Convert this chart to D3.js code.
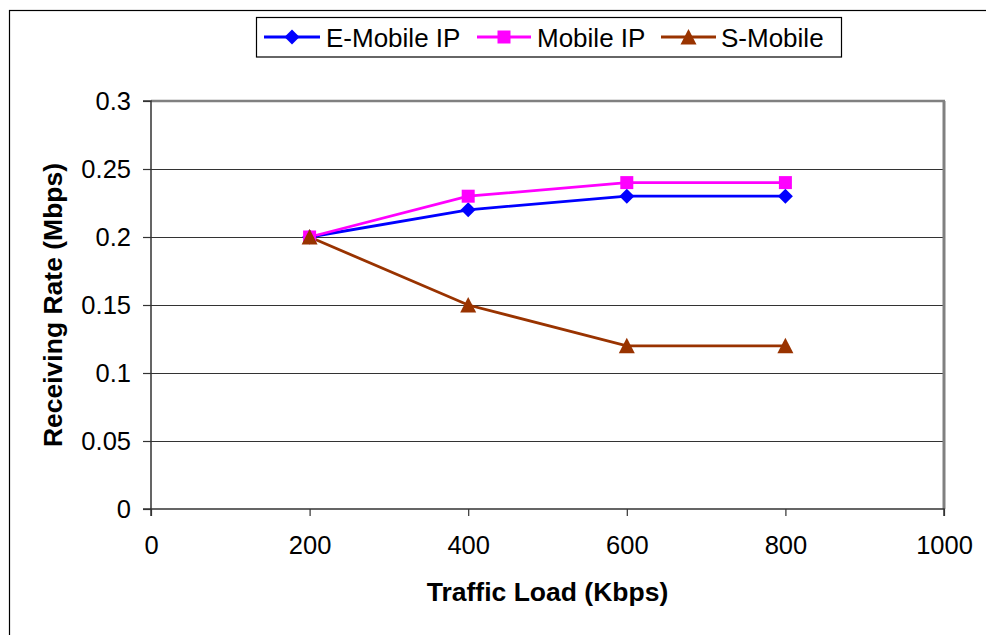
<!DOCTYPE html>
<html>
<head>
<meta charset="utf-8">
<script src="https://cdn.jsdelivr.net/npm/d3@7"></script>
<style>
  html, body { margin: 0; padding: 0; background: #fff; }
  svg { display: block; }
  text { font-family: "Liberation Sans", Arial, sans-serif; fill: #000; }
</style>
</head>
<body>
<svg id="chart" width="986" height="635"></svg>
<script>
// ---- data ----
const trafficLoad = [200, 400, 600, 800];
const eMobileIP = [0.20, 0.22, 0.23, 0.23];
const mobileIP = [0.20, 0.23, 0.24, 0.24];
const sMobile = [0.20, 0.15, 0.12, 0.12];
const seriesNames = ["E-Mobile IP", "Mobile IP", "S-Mobile"];
const xTicks = [0, 200, 400, 600, 800, 1000];
const yTicks = [0, 0.05, 0.1, 0.15, 0.2, 0.25, 0.3];
const xTitle = "Traffic Load (Kbps)";
const yTitle = "Receiving Rate (Mbps)";

// custom marker shapes (bbox-centred)
const diamondPath = "M0,-7.5L7.5,0L0,7.5L-7.5,0Z";
const squarePath = "M-6.5,-6.5H6.5V6.5H-6.5Z";
const trianglePath = "M0,-8L8,7.5H-8Z";

const series = [
  { name: seriesNames[0], values: eMobileIP, color: "#0000FF", marker: diamondPath },
  { name: seriesNames[1], values: mobileIP, color: "#FF00FF", marker: squarePath },
  { name: seriesNames[2], values: sMobile, color: "#993300", marker: trianglePath }
];

const svg = d3.select("#chart");

// outer frame (extends past bottom/right)
svg.append("rect").attr("x", 9.5).attr("y", 10.5).attr("width", 1000).attr("height", 700)
  .attr("fill", "none").attr("stroke", "#000").attr("stroke-width", 1.2);

const plot = { left: 151, right: 944, top: 101, bottom: 509 };
const x = d3.scaleLinear().domain([0, 1000]).range([plot.left, plot.right]);
const y = d3.scaleLinear().domain([0, 0.3]).range([plot.bottom, plot.top]);

// gridlines
svg.append("g").selectAll("line").data(yTicks.filter(v => v > 0 && v < 0.3)).join("line")
  .attr("x1", plot.left).attr("x2", plot.right)
  .attr("y1", d => Math.round(y(d)) + 0.5).attr("y2", d => Math.round(y(d)) + 0.5)
  .attr("stroke", "#333").attr("stroke-width", 1.2);

// plot border top/right (gray)
svg.append("line").attr("x1", plot.left).attr("x2", plot.right + 1).attr("y1", plot.top).attr("y2", plot.top)
  .attr("stroke", "#808080").attr("stroke-width", 2.5);
svg.append("line").attr("x1", plot.right).attr("x2", plot.right).attr("y1", plot.top).attr("y2", plot.bottom)
  .attr("stroke", "#808080").attr("stroke-width", 3);

// axes
const fs = "25.5px";
const xAxis = d3.axisBottom(x).tickValues(xTicks).tickSize(7).tickPadding(20).tickFormat(d3.format("d"));
const gx = svg.append("g").attr("transform", `translate(0,${plot.bottom})`).call(xAxis);
gx.select(".domain").attr("stroke", "#333").attr("stroke-width", 1.5).attr("d", `M${plot.left},7V0H${plot.right}V7`);
gx.selectAll(".tick line").attr("stroke", "#333").attr("stroke-width", 1.2);
gx.selectAll(".tick text").attr("font-size", fs).attr("font-family", "Liberation Sans, Arial, sans-serif").attr("fill", "#000");

const yAxis = d3.axisLeft(y).tickValues(yTicks).tickSize(8).tickPadding(12).tickFormat(d => d3.format("")(+d.toFixed(2)));
const gy = svg.append("g").attr("transform", `translate(${plot.left},0)`).call(yAxis);
gy.select(".domain").attr("stroke", "#333").attr("stroke-width", 1.5).attr("d", `M-8,${plot.top}H0V${plot.bottom}H-8`);
gy.selectAll(".tick line").attr("stroke", "#333").attr("stroke-width", 1.2);
gy.selectAll(".tick text").attr("font-size", fs).attr("font-family", "Liberation Sans, Arial, sans-serif").attr("fill", "#000");

// axis titles
svg.append("text").attr("x", (plot.left + plot.right) / 2).attr("y", 601)
  .attr("text-anchor", "middle").attr("font-size", "26.5px").attr("font-weight", "bold").text(xTitle);
svg.append("text").attr("transform", `translate(62,${(plot.top + plot.bottom) / 2}) rotate(-90)`)
  .attr("text-anchor", "middle").attr("font-size", "26.5px").attr("font-weight", "bold").text(yTitle);

// lines + markers
const line = d3.line().x((d, i) => x(trafficLoad[i])).y(d => y(d));
series.forEach(s => {
  svg.append("path").datum(s.values).attr("d", line)
    .attr("fill", "none").attr("stroke", s.color).attr("stroke-width", 2.8);
});
series.forEach(s => {
  svg.append("g").selectAll("path").data(s.values).join("path")
    .attr("d", s.marker)
    .attr("transform", (d, i) => `translate(${x(trafficLoad[i])},${y(d)})`)
    .attr("fill", s.color);
});

// legend
const legend = svg.append("g");
legend.append("rect").attr("x", 256.5).attr("y", 17.5).attr("width", 585).attr("height", 39.5)
  .attr("fill", "#fff").attr("stroke", "#000").attr("stroke-width", 1.2);
const legendItems = [
  { lx1: 264, lx2: 320, tx: 326 },
  { lx1: 477, lx2: 531, tx: 537 },
  { lx1: 661, lx2: 716, tx: 721 }
];
series.forEach((s, i) => {
  const it = legendItems[i];
  const cy = 37;
  legend.append("line").attr("x1", it.lx1).attr("x2", it.lx2).attr("y1", cy).attr("y2", cy)
    .attr("stroke", s.color).attr("stroke-width", 2.8);
  legend.append("path").attr("d", s.marker)
    .attr("transform", `translate(${(it.lx1 + it.lx2) / 2},${cy})`).attr("fill", s.color);
  legend.append("text").attr("x", it.tx).attr("y", cy + 9.5).attr("font-size", "26px").text(s.name);
});
</script>
</body>
</html>
